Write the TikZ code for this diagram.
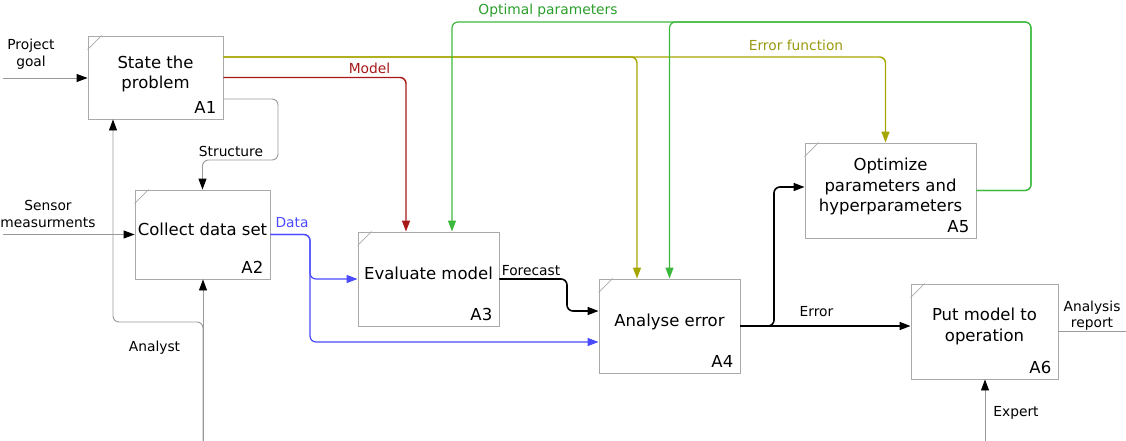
\documentclass[tikz,border=0pt]{standalone}
\usepackage{fontspec}
\setmainfont{DejaVu Sans}
\usetikzlibrary{arrows.meta}
\definecolor{boxgray}{HTML}{AAAAAA}
\definecolor{linegray}{HTML}{999999}
\definecolor{modelred}{HTML}{A81818}
\definecolor{olivec}{HTML}{A6A600}
\definecolor{olivet}{HTML}{9A9A10}
\definecolor{greenc}{HTML}{3CB83C}
\definecolor{greent}{HTML}{2A9E2A}
\definecolor{bluec}{HTML}{4A4AFF}
\begin{document}
\begin{tikzpicture}[x=1pt,y=-1pt,
  box/.style={draw=boxgray,line width=0.9pt,inner sep=0pt},
  cornerline/.style={draw=boxgray,line width=0.8pt},
  maintext/.style={font=\fontsize{16.5}{20.5}\selectfont,inner sep=0pt,align=center},
  smalltext/.style={font=\fontsize{13.8}{16.5}\selectfont,inner sep=0pt,align=center},
  tipk/.style={-{Triangle[length=11pt,width=8pt,color=#1]}},
  ext/.style={draw=linegray,line width=0.9pt,rounded corners=6pt,tipk=black},
  extline/.style={draw=linegray,line width=0.9pt},
  mdl/.style={draw=modelred,line width=1.4pt,rounded corners=6pt,tipk=modelred},
  oli/.style={draw=olivec,line width=1.4pt,rounded corners=6pt,tipk=olivec},
  grn/.style={draw=greenc,line width=1.2pt,rounded corners=6pt,tipk=greenc},
  dat/.style={draw=bluec,line width=1.2pt,rounded corners=6pt,tipk=bluec},
  blk/.style={draw=black,line width=1.6pt,rounded corners=6pt,tipk=black}]
\useasboundingbox (0,0) rectangle (1126,441);

% boxes
\node[box,minimum width=135pt,minimum height=83pt] (A1) at (155.5,77.5) {};
\node[box,minimum width=135pt,minimum height=89pt] (A2) at (202.5,234.5) {};
\node[box,minimum width=141pt,minimum height=94pt] (A3) at (428.5,279) {};
\node[box,minimum width=141pt,minimum height=94pt] (A4) at (669.5,326) {};
\node[box,minimum width=171pt,minimum height=95pt] (A5) at (890.5,190.5) {};
\node[box,minimum width=147pt,minimum height=95pt] (A6) at (984.5,331.5) {};

\foreach \b in {A1,A2,A3,A4,A5,A6}{
  \draw[cornerline] ([yshift=-14pt]\b.north west) -- ([xshift=14pt]\b.north west);
}

% box texts
\node[maintext] (A1t) at (155.5,74) {State the\\problem};
\node[maintext,anchor=base] (A2t) at (202.5,235) {Collect data set};
\node[maintext,anchor=base] (A3t) at (428.5,279) {Evaluate model};
\node[maintext,anchor=base] (A4t) at (669.5,326) {Analyse error};
\node[maintext] (A5t) at (890.5,186.5) {Optimize\\parameters and\\hyperparameters};
\node[maintext] (A6t) at (984.5,326.5) {Put model to\\operation};

% ids
\foreach \b in {A1,A2,A3,A4,A5,A6}{
  \node[maintext,anchor=base east] (\b id) at ([xshift=-7pt,yshift=6pt]\b.south east) {\b};
}

% free-end coordinates and waypoints
\coordinate (pg) at (3,78);
\coordinate (sm) at (3,234.5);
\coordinate (an) at (203,441);
\coordinate (anJ) at (203,322);
\coordinate (anL) at (113,322);
\coordinate (strR) at (278,160);
\coordinate (optR) at (1031,22);
\coordinate (dJ) at (310,234.5);
\coordinate (fJ) at (567,279);
\coordinate (eJ) at (774,326);
\coordinate (ar) at (1126,331.5);
\coordinate (ex) at (985,441);

% external inputs
\draw[ext] (pg) -- (pg -| A1.west);
\draw[ext] (sm) -- (sm -| A2.west);
\draw[ext] (an) -- (an |- A2.south);
\draw[ext] (an) -- (anJ) -- (anL) -- ([xshift=-42.5pt]A1.south);
\draw[ext] ([yshift=-21.5pt]A1.east) -| (strR) -| (A2.north);
\draw[ext] (ex) -- (ex |- A6.south);
\draw[extline] (A6.east) -- (ar);

% colored flows
\draw[oli] ([yshift=20.5pt]A1.east) -| ([xshift=-32.5pt]A4.north);
\draw[oli] ([yshift=20.5pt]A1.east) -| ([xshift=-5pt]A5.north);
\draw[mdl] (A1.east) -| ([xshift=-22.5pt]A3.north);
\draw[grn] (A5.east) -| (optR) -| ([xshift=23.5pt]A3.north);
\draw[grn] (A5.east) -| (optR) -| (A4.north);
\draw[dat] (A2.east) -- (dJ) |- (A3.west);
\draw[dat] (A2.east) -- (dJ) |- ([yshift=-16pt]A4.west);
\draw[blk] (A3.east) -- (fJ) |- ([yshift=15pt]A4.west);
\draw[blk] (A4.east) -- (A4.east -| A6.west);
\draw[blk] (A4.east) -- (eJ) |- ([yshift=3.5pt]A5.west);

% labels
\node[smalltext] (Lpg) at (31,54.3) {Project\\goal};
\node[smalltext] (Lsm) at (48,213.9) {Sensor\\measurments};
\node[smalltext,anchor=base] (Lan) at (154.5,351) {Analyst};
\node[smalltext,anchor=base] (Lst) at (231,156.5) {Structure};
\node[smalltext,anchor=base,text=modelred] (Lmo) at (369.5,74) {Model};
\node[smalltext,anchor=base,text=greent] (Lop) at (548,14.5) {Optimal parameters};
\node[smalltext,anchor=base,text=olivet] (Lef) at (796,50.5) {Error function};
\node[smalltext,anchor=base,text=bluec] (Lda) at (292,227) {Data};
\node[smalltext,anchor=base] (Lfc) at (531,275) {Forecast};
\node[smalltext,anchor=base] (Ler) at (816.5,316) {Error};
\node[smalltext] (Lar) at (1092,315.6) {Analysis\\report};
\node[smalltext,anchor=base] (Lex) at (1016,416.5) {Expert};
\end{tikzpicture}
\end{document}
